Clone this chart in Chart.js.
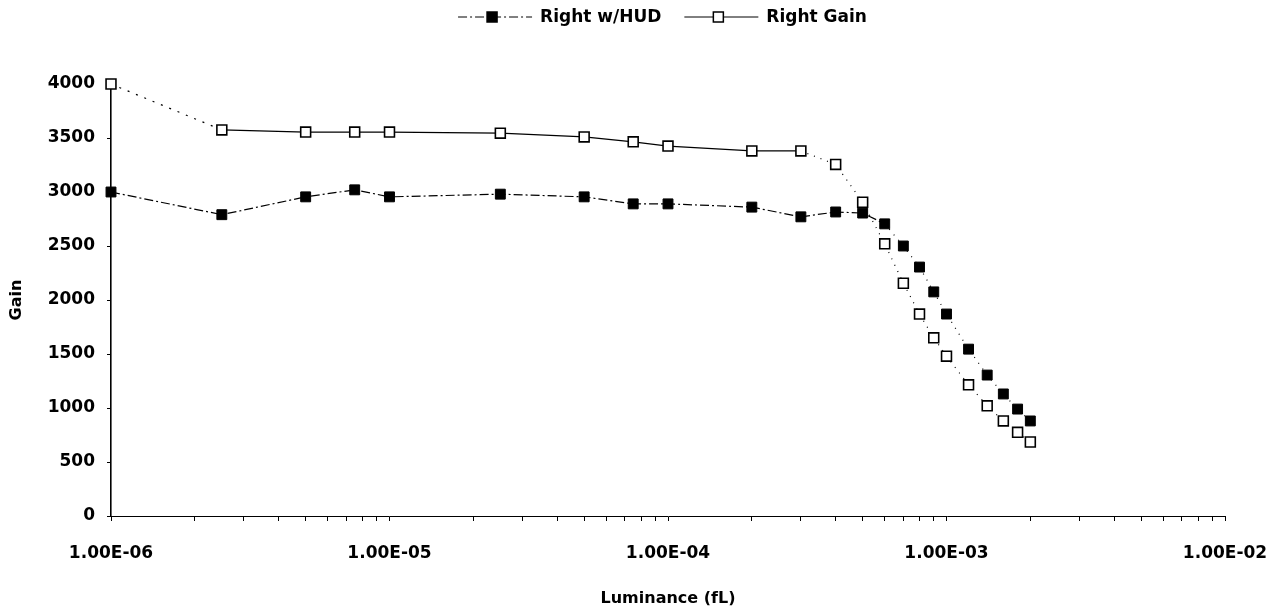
<!DOCTYPE html>
<html>
<head>
<meta charset="utf-8">
<title>Gain vs Luminance</title>
<script src="https://cdn.jsdelivr.net/npm/chart.js@4.4.1/dist/chart.umd.min.js"></script>
<style>
  html, body { margin: 0; padding: 0; background: #fff; }
  #wrap { width: 1277px; height: 609px; }
</style>
</head>
<body>
<div id="wrap"><canvas id="gainChart" width="1277" height="609"></canvas></div>
<script>
// luminance steps (fL) and the two gain series
const luminance = [1e-6, 2.5e-6, 5e-6, 7.5e-6, 1e-5, 2.5e-5, 5e-5, 7.5e-5, 1e-4, 2e-4, 3e-4, 4e-4,
  5e-4, 6e-4, 7e-4, 8e-4, 9e-4, 1e-3, 1.2e-3, 1.4e-3, 1.6e-3, 1.8e-3, 2e-3];
const hudGain = [3000, 2790, 2955, 3020, 2955, 2980, 2955, 2890, 2890, 2860, 2770, 2815,
  2805, 2705, 2500, 2305, 2075, 1870, 1545, 1305, 1130, 990, 880];
const rightGain = [4000, 3575, 3555, 3555, 3555, 3545, 3510, 3465, 3425, 3380, 3380, 3255,
  2905, 2520, 2155, 1870, 1650, 1480, 1215, 1020, 880, 775, 685];

const seriesNames = ['Right w/HUD', 'Right Gain'];
const decadeLabels = ['1.00E-06', '1.00E-05', '1.00E-04', '1.00E-03', '1.00E-02'];
const gainTicks = [0, 500, 1000, 1500, 2000, 2500, 3000, 3500, 4000];

const FONT = '"DejaVu Sans", "Liberation Sans", sans-serif';
const toPoints = ys => ys.map((y, i) => ({ x: luminance[i], y: y }));

// faint dotted segments where the scanned lines fade out
const fadeFrom = (start) => ({
  borderDash: ctx => (ctx.p0DataIndex >= start ? [1, 6] : undefined)
});

// legend drawn by hand so each entry shows line + marker like the original
const sampleLegend = {
  id: 'sampleLegend',
  afterDraw(chart) {
    const ctx = chart.ctx;
    const y = 17;
    const sampleW = 74, gap = 8, itemGap = 23;
    ctx.save();
    ctx.font = 'bold 17px ' + FONT;
    ctx.textBaseline = 'middle';
    const items = chart.data.datasets.map(ds => ({ ds, w: ctx.measureText(ds.label).width }));
    const total = items.reduce((s, it) => s + sampleW + gap + it.w, 0) + itemGap * (items.length - 1);
    let x = chart.width / 2 + 24 - total / 2;
    items.forEach(({ ds, w }) => {
      ctx.strokeStyle = '#000';
      ctx.lineWidth = 1;
      ctx.setLineDash(ds.borderDash || []);
      ctx.beginPath();
      ctx.moveTo(x, y);
      ctx.lineTo(x + sampleW, y);
      ctx.stroke();
      ctx.setLineDash([]);
      const mx = x + sampleW / 2 - 3;
      ctx.fillStyle = ds.pointBackgroundColor;
      ctx.fillRect(mx - 5, y - 5, 10, 10);
      ctx.lineWidth = 1.5;
      ctx.strokeRect(mx - 5, y - 5, 10, 10);
      ctx.fillStyle = '#000';
      ctx.fillText(ds.label, x + sampleW + gap, y + 1);
      x += sampleW + gap + w + itemGap;
    });
    ctx.restore();
  }
};

const chart = new Chart(document.getElementById('gainChart'), {
  type: 'line',
  data: {
    datasets: [{
      label: seriesNames[0],
      data: toPoints(hudGain),
      borderColor: '#000',
      borderWidth: 1.2,
      borderDash: [9, 3, 2, 3],
      pointStyle: 'rect',
      pointRadius: 7,
      pointBackgroundColor: '#000',
      pointBorderColor: '#000',
      pointBorderWidth: 1,
      segment: fadeFrom(13),
      clip: 10
    }, {
      label: seriesNames[1],
      data: toPoints(rightGain),
      borderColor: '#000',
      borderWidth: 1.2,
      pointStyle: 'rect',
      pointRadius: 7,
      pointBackgroundColor: '#fff',
      pointBorderColor: '#000',
      pointBorderWidth: 1.6,
      segment: {
        borderDash: ctx => (ctx.p0DataIndex === 0 ? [2, 7] : ctx.p0DataIndex >= 10 ? [1, 6] : undefined)
      },
      clip: 10
    }]
  },
  options: {
    responsive: false,
    animation: false,
    layout: { padding: { left: 0, right: 52, top: 84, bottom: 0 } },
    plugins: {
      legend: { display: false },
      tooltip: { enabled: false }
    },
    scales: {
      x: {
        type: 'logarithmic',
        min: 1e-6,
        max: 1e-2,
        afterFit: scale => {
          scale.height = 93;
          // the end labels fit inside the layout padding, no extra room needed
          scale.paddingLeft = 0;
          scale.paddingRight = 0;
        },
        afterBuildTicks: scale => {
          const ticks = [];
          for (let e = -6; e < -2; e++) {
            for (let m = 1; m < 10; m++) ticks.push({ value: m * Math.pow(10, e) });
          }
          ticks.push({ value: 1e-2 });
          scale.ticks = ticks;
        },
        grid: { drawOnChartArea: false, color: '#000', tickLength: 5, lineWidth: 1 },
        border: { display: true, color: '#000', width: 1, dash: [10, 3, 2, 3] },
        ticks: {
          autoSkip: false,
          maxRotation: 0,
          padding: 22,
          color: '#000',
          font: { family: FONT, size: 17, weight: 'bold' },
          callback: v => {
            const lg = Math.log10(v);
            const e = Math.round(lg);
            return Math.abs(lg - e) < 1e-6 ? decadeLabels[e + 6] : '';
          }
        },
        title: {
          display: true,
          text: 'Luminance (fL)',
          color: '#000',
          font: { family: FONT, size: 16, weight: 'bold' },
          padding: { top: 0, bottom: 1 }
        }
      },
      y: {
        min: 0,
        max: 4000,
        afterFit: scale => { scale.width = 111; },
        afterBuildTicks: scale => { scale.ticks = gainTicks.map(v => ({ value: v })); },
        grid: { drawOnChartArea: false, color: '#000', tickLength: 4 },
        border: { display: true, color: '#000', width: 1.6 },
        ticks: {
          padding: 12,
          color: '#000',
          font: { family: FONT, size: 17, weight: 'bold' },
          callback: v => String(v)
        },
        title: {
          display: true,
          text: 'Gain',
          color: '#000',
          font: { family: FONT, size: 16, weight: 'bold' },
          padding: { top: 7, bottom: 0 }
        }
      }
    }
  },
  plugins: [sampleLegend]
});
</script>
</body>
</html>
